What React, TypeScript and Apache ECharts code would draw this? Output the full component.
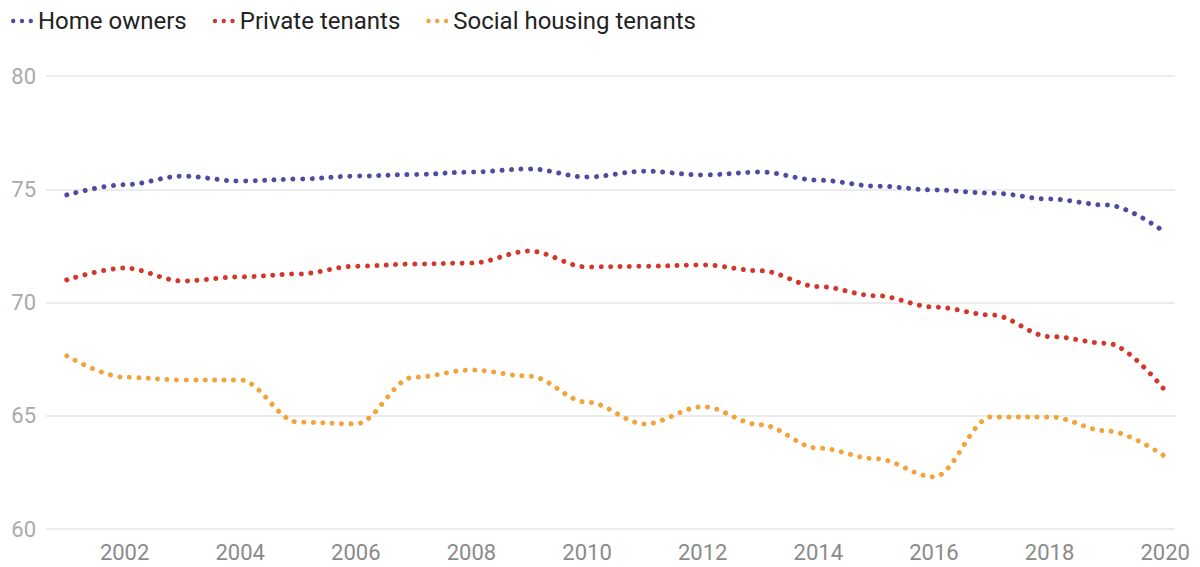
import React, { useEffect, useRef } from "react";
import * as echarts from "echarts";

const years = [2001, 2002, 2003, 2004, 2005, 2006, 2007, 2008, 2009, 2010, 2011, 2012, 2013, 2014, 2015, 2016, 2017, 2018, 2019, 2020];
const homeOwners = [74.75, 75.2, 75.58, 75.36, 75.45, 75.58, 75.65, 75.76, 75.9, 75.54, 75.8, 75.63, 75.76, 75.4, 75.14, 74.97, 74.83, 74.57, 74.3, 73.1];
const privateTenants = [71.0, 71.52, 70.95, 71.13, 71.26, 71.6, 71.7, 71.74, 72.27, 71.57, 71.6, 71.66, 71.4, 70.7, 70.3, 69.8, 69.45, 68.5, 68.2, 66.1];
const socialTenants = [67.64, 66.7, 66.58, 66.58, 64.72, 64.64, 66.7, 67.02, 66.75, 65.6, 64.64, 65.4, 64.6, 63.57, 63.1, 62.3, 64.95, 64.95, 64.33, 63.2];
const xTickLabels = [2002, 2004, 2006, 2008, 2010, 2012, 2014, 2016, 2018, 2020];
const seriesNames = ["Home owners", "Private tenants", "Social housing tenants"];
const colors = ["#4B4E9E", "#D3372B", "#F2A33A"];

const dotsIcon =
  "path://M2,0A2,2 0 1 1 2,4A2,2 0 1 1 2,0ZM10,0A2,2 0 1 1 10,4A2,2 0 1 1 10,0ZM18,0A2,2 0 1 1 18,4A2,2 0 1 1 18,0Z";

export default function App() {
  const ref = useRef<HTMLDivElement>(null);
  useEffect(() => {
    if (!ref.current) return;
    const chart = echarts.init(ref.current, null, { renderer: "svg" });
    const all = [homeOwners, privateTenants, socialTenants];
    chart.setOption({
      animation: false,
      textStyle: { fontFamily: "Roboto" },
      legend: {
        left: 6,
        top: 4,
        icon: dotsIcon,
        itemWidth: 22,
        itemHeight: 5,
        itemGap: 26,
        textStyle: { fontSize: 24, color: "#222", fontFamily: "Roboto" },
        data: seriesNames,
      },
      grid: { left: 46, right: 25, top: 76, bottom: 38 },
      xAxis: {
        type: "value",
        min: 2000.64,
        max: 2020.17,
        axisLine: { show: false },
        axisTick: { show: false },
        splitLine: { show: false },
        axisLabel: {
          customValues: xTickLabels,
          color: "#8a8a8a",
          fontSize: 22,
          margin: 12,
          formatter: (v: number) => String(v),
        },
      },
      yAxis: {
        type: "value",
        min: 60,
        max: 80,
        interval: 5,
        axisLine: { show: false },
        axisTick: { show: false },
        splitLine: { lineStyle: { color: "#e4e4e4", width: 1.5 } },
        axisLabel: { color: "#aaaaaa", fontSize: 22, margin: 10 },
      },
      series: seriesNames.map((name, i) => ({
        name,
        type: "line",
        data: years.map((y, j) => [y, all[i][j]]),
        showSymbol: false,
        smooth: 0.35,
        smoothMonotone: "x",
        color: colors[i],
        lineStyle: { color: colors[i], width: 5, type: [0.01, 9.5], cap: "round" },
      })),
    });
    return () => chart.dispose();
  }, []);
  return <div ref={ref} style={{ position: "absolute", left: 0, top: 0, width: 1200, height: 567 }} />;
}
